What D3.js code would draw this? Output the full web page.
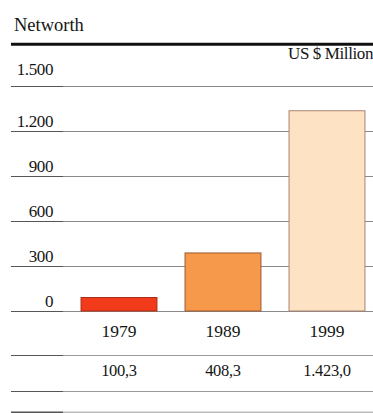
<!DOCTYPE html>
<html><head><meta charset="utf-8">
<script src="https://cdn.jsdelivr.net/npm/d3@7"></script>
<style>body{margin:0;background:#fff}svg{display:block}text{font-family:"Liberation Serif","DejaVu Serif",serif;fill:#151515}</style>
</head><body><svg id="c" width="373" height="413"></svg>
<script>
const title = "Networth";
const unit = "US $ Million";
const years = ["1979", "1989", "1999"];
const barValues = [90, 387, 1335];          // bar heights as drawn
const valueLabels = ["100,3", "408,3", "1.423,0"];
const tickValues = [0, 300, 600, 900, 1200, 1500];
const colors = ["#f23b1b", "#f7994b", "#fde3c4"];
const strokes = ["#a8301a", "#9a5a34", "#a88070"];

const svg = d3.select("#c");
const loc = d3.formatLocale({decimal: ",", thousands: ".", grouping: [3], currency: ["$", ""]});
const fmt = loc.format(",d");

const y = d3.scaleLinear().domain([0, 1500]).range([311, 86]);
const x = d3.scaleBand().domain(years).range([67, 379]).paddingInner(0.27).paddingOuter(0.135);

svg.append("text").attr("x", 14).attr("y", 31).attr("font-size", 18.5).text(title);
svg.append("line").attr("x1", 11).attr("x2", 373).attr("y1", 44.3).attr("y2", 44.3)
  .attr("stroke", "#111").attr("stroke-width", 3);
svg.append("text").attr("x", 373).attr("y", 59).attr("text-anchor", "end").attr("font-size", 17)
  .attr("letter-spacing", -0.4).text(unit);

function rule(yy, wL, cL, cR, wR) {
  svg.append("line").attr("x1", 11).attr("x2", 63).attr("y1", yy).attr("y2", yy).attr("stroke", cL).attr("stroke-width", wL);
  svg.append("line").attr("x1", 63).attr("x2", 373).attr("y1", yy).attr("y2", yy).attr("stroke", cR).attr("stroke-width", wR);
}

// gridlines + tick labels
tickValues.forEach(t => {
  rule(Math.round(y(t)) + 0.5, 1.1, "#555", "#8a8a8a", 1);
  svg.append("text").attr("x", 53).attr("y", y(t) - (t === 1500 ? 11 : 4)).attr("text-anchor", "end")
    .attr("font-size", 17).attr("letter-spacing", -0.4).text(fmt(t));
});

// bars
svg.selectAll("rect.bar").data(years).join("rect").attr("class", "bar")
  .attr("x", d => x(d)).attr("width", x.bandwidth())
  .attr("y", (d, i) => y(barValues[i])).attr("height", (d, i) => y(0) - y(barValues[i]))
  .attr("fill", (d, i) => colors[i]).attr("stroke", (d, i) => strokes[i]).attr("stroke-width", 1);

// year labels
svg.selectAll("text.yr").data(years).join("text").attr("class", "yr")
  .attr("x", d => x(d) + x.bandwidth() / 2).attr("y", 337).attr("text-anchor", "middle")
  .attr("font-size", 17.5).text(d => d);

// table rules
rule(355.5, 1.1, "#555", "#999", 1);
rule(391.5, 1.1, "#555", "#999", 1);
rule(412.5, 2, "#555", "#bbb", 2);

svg.selectAll("text.val").data(valueLabels).join("text").attr("class", "val")
  .attr("x", (d, i) => x(years[i]) + x.bandwidth() / 2).attr("y", 376).attr("text-anchor", "middle")
  .attr("font-size", 16.5).attr("letter-spacing", -0.3).text(d => d);
</script></body></html>
